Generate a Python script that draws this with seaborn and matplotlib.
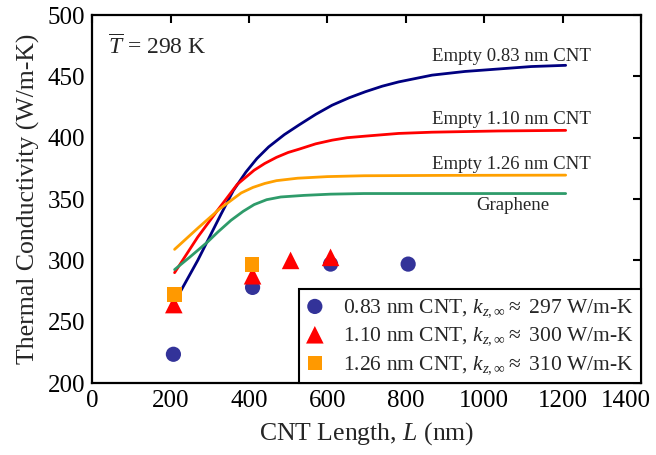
import numpy as np
import pandas as pd
import matplotlib
matplotlib.use("Agg")
import matplotlib.pyplot as plt
import matplotlib.transforms as mtransforms
import seaborn as sns

# ---- data ----
L_083 = [210, 269, 329, 360, 392, 420, 450, 490, 528, 570, 612, 655, 697, 740, 782, 867, 951, 1036, 1120, 1208]
k_083 = [266, 300, 338, 357, 372, 383, 392.5, 402.5, 410.5, 419, 426.5, 432.5, 437.5, 442, 445.5, 451, 454, 456, 458, 459]

L_110 = [210, 269, 320, 370, 413, 440, 470, 500, 528, 570, 612, 650, 697, 782, 867, 951, 1036, 1208]
k_110 = [290, 319, 341, 362, 373.5, 379, 384, 388, 390.7, 395, 398, 400, 401.3, 403.5, 404.5, 405, 405.5, 406]

L_126 = [210, 270, 325, 380, 410, 440, 470, 524, 600, 693, 900, 1208]
k_126 = [309, 326.5, 342, 355, 359.5, 362.7, 365, 367, 368.3, 369, 369.3, 369.5]

L_gr = [210, 250, 294, 320, 354, 385, 413, 445, 481, 540, 608, 693, 1208]
k_gr = [292.5, 303, 315, 323, 332.7, 340, 345.5, 349.5, 351.7, 353, 354, 354.5, 354.5]

pt_L_083 = [207, 409, 608, 806]
pt_k_083 = [223.5, 278, 297, 297]
pt_L_110 = [208, 409, 506, 608]
pt_k_110 = [264, 287.5, 300, 302.5]
pt_L_126 = [210, 408]
pt_k_126 = [272, 296.5]

curve_labels = ["Empty 0.83 nm CNT", "Empty 1.10 nm CNT", "Empty 1.26 nm CNT", "Graphene"]
legend_labels = [r"0.83 nm CNT, $k_{z,\infty} \approx$ 297 W/m-K",
                 r"1.10 nm CNT, $k_{z,\infty} \approx$ 300 W/m-K",
                 r"1.26 nm CNT, $k_{z,\infty} \approx$ 310 W/m-K"]
x_ticks = [0, 200, 400, 600, 800, 1000, 1200, 1400]
y_ticks = [200, 250, 300, 350, 400, 450, 500]

# ---- style ----
sns.set_style("white")
plt.rcParams["font.family"] = ["Liberation Serif", "DejaVu Serif"]
plt.rcParams["mathtext.fontset"] = "custom"
plt.rcParams["mathtext.rm"] = "Liberation Serif"
plt.rcParams["mathtext.it"] = "Liberation Serif:italic"
plt.rcParams["mathtext.bf"] = "Liberation Serif:bold"

c_blue_line = "#000080"
c_red = "#FF0000"
c_orange = "#FFA000"
c_green = "#2E9B6A"
c_blue_pt = "#333399"
c_orange_pt = "#FF9900"

fig = plt.figure(figsize=(6.56, 4.55), dpi=100)
ax = fig.add_axes([0.1407, 0.158, 0.977 - 0.1407, 0.967 - 0.158])

curves = [(L_083, k_083, c_blue_line), (L_110, k_110, c_red),
          (L_126, k_126, c_orange), (L_gr, k_gr, c_green)]
for Ls, ks, col in curves:
    df = pd.DataFrame({"L": Ls, "k": ks})
    sns.lineplot(data=df, x="L", y="k", ax=ax, color=col, linewidth=2.0,
                 sort=False, estimator=None, legend=False)

pts = [(pt_L_083, pt_k_083, c_blue_pt, "o", 120, legend_labels[0]),
       (pt_L_110, pt_k_110, c_red, "^", 160, legend_labels[1]),
       (pt_L_126, pt_k_126, c_orange_pt, "s", 110, legend_labels[2])]
for Ls, ks, col, mk, s, lab in pts:
    df = pd.DataFrame({"L": Ls, "k": ks})
    sns.scatterplot(data=df, x="L", y="k", ax=ax, color=col, marker=mk, s=s,
                    edgecolor="none", linewidth=0, label=lab, zorder=5)

ax.set_xlim(0, 1400)
ax.set_ylim(200, 500)
ax.set_xticks(x_ticks)
ax.set_yticks(y_ticks)
ax.set_xticklabels([str(v) for v in x_ticks])
ax.set_yticklabels([str(v) for v in y_ticks])
ax.tick_params(direction="in", top=True, right=True, length=6, width=1.5,
               labelsize=18, pad=5, colors="black")
for sp in ax.spines.values():
    sp.set_linewidth(1.6)
    sp.set_color("black")

# shift last x tick label left to stay inside the figure
lbls = ax.get_xticklabels()
off = mtransforms.ScaledTranslation(-15 / 100, 0, fig.dpi_scale_trans)
lbls[-1].set_transform(lbls[-1].get_transform() + off)

ax.set_xlabel(r"CNT Length, $L$ (nm)", fontsize=18.5, labelpad=6)
ax.set_ylabel("Thermal Conductivity (W/m-K)", fontsize=18.5, labelpad=6)

# curve labels
ax.text(1272, 466.5, curve_labels[0], fontsize=13.5, ha="right", va="center")
ax.text(1272, 415, curve_labels[1], fontsize=13.5, ha="right", va="center")
ax.text(1272, 378, curve_labels[2], fontsize=13.5, ha="right", va="center")
ax.text(1074, 344.5, curve_labels[3], fontsize=13.5, ha="center", va="center")

ax.text(40, 474.5, r"$\overline{T}$ = 298 K", fontsize=17, ha="left", va="center")

leg = ax.legend(loc="lower right", fontsize=15.5, frameon=True, fancybox=False,
                edgecolor="black", framealpha=1, borderaxespad=0.0,
                handletextpad=0.9, labelspacing=0.3, borderpad=0.35,
                handlelength=0.8)
leg.get_frame().set_linewidth(1.5)

fig.savefig("out.png", dpi=100)
